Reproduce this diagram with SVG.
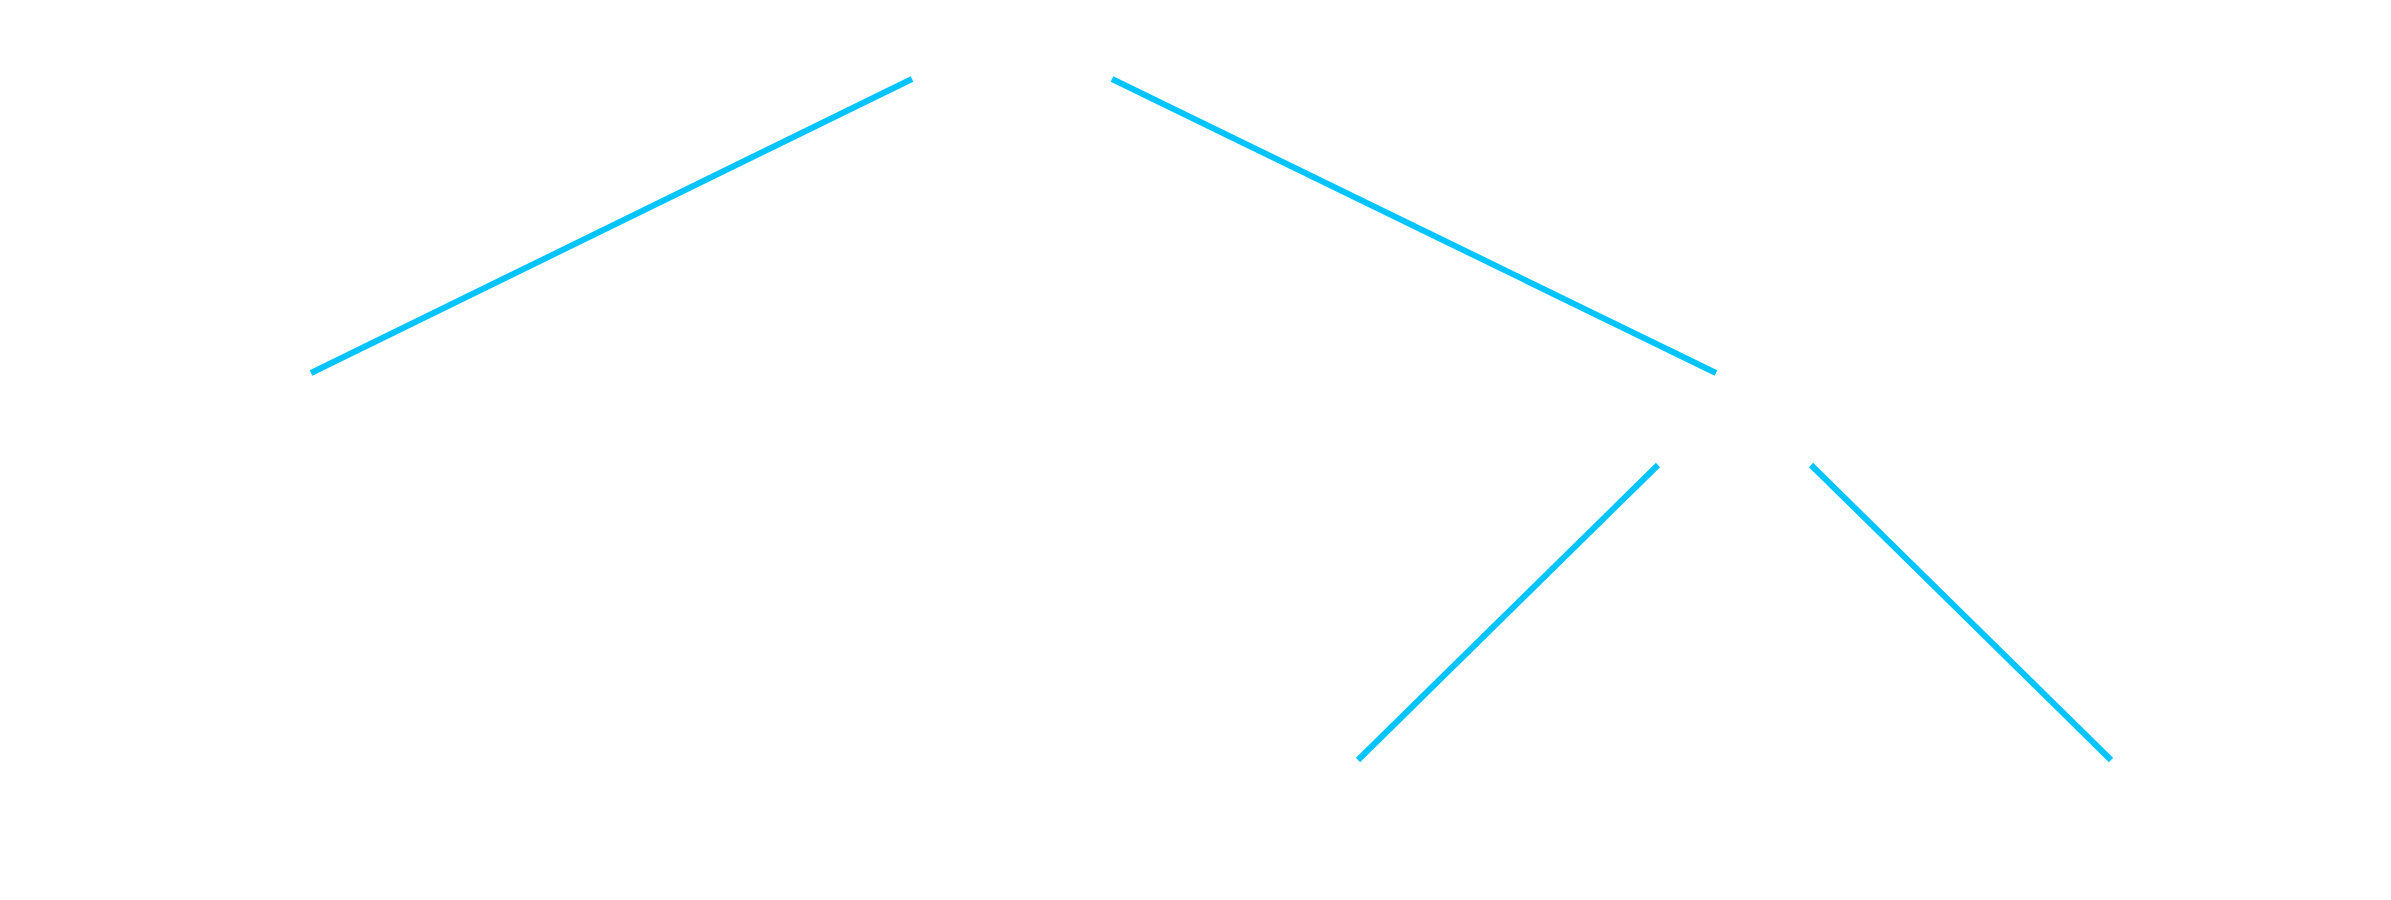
<svg xmlns="http://www.w3.org/2000/svg" width="2391" height="900" viewBox="0 0 2391 900">
  <style>
    .edge { stroke: #00c4ff; stroke-width: 6; stroke-linecap: butt; fill: none; }
    .node { fill: #ffffff; stroke: none; }
  </style>
  <rect x="0" y="0" width="2391" height="900" fill="#ffffff"/>
  <g id="connectors">
    <line class="edge" x1="912" y1="79" x2="311" y2="373"/>
    <line class="edge" x1="1112" y1="79" x2="1716" y2="373"/>
    <line class="edge" x1="1658" y1="465" x2="1358" y2="760"/>
    <line class="edge" x1="1811" y1="465" x2="2111" y2="760"/>
  </g>
  <g id="node-root"><rect class="node" x="930" y="5" width="165" height="65"/></g>
  <g id="node-left"><rect class="node" x="80" y="385" width="300" height="75"/></g>
  <g id="node-right"><rect class="node" x="1650" y="385" width="170" height="70"/></g>
  <g id="node-right-left"><rect class="node" x="1230" y="775" width="200" height="70"/></g>
  <g id="node-right-right"><rect class="node" x="2050" y="775" width="200" height="70"/></g>
</svg>
